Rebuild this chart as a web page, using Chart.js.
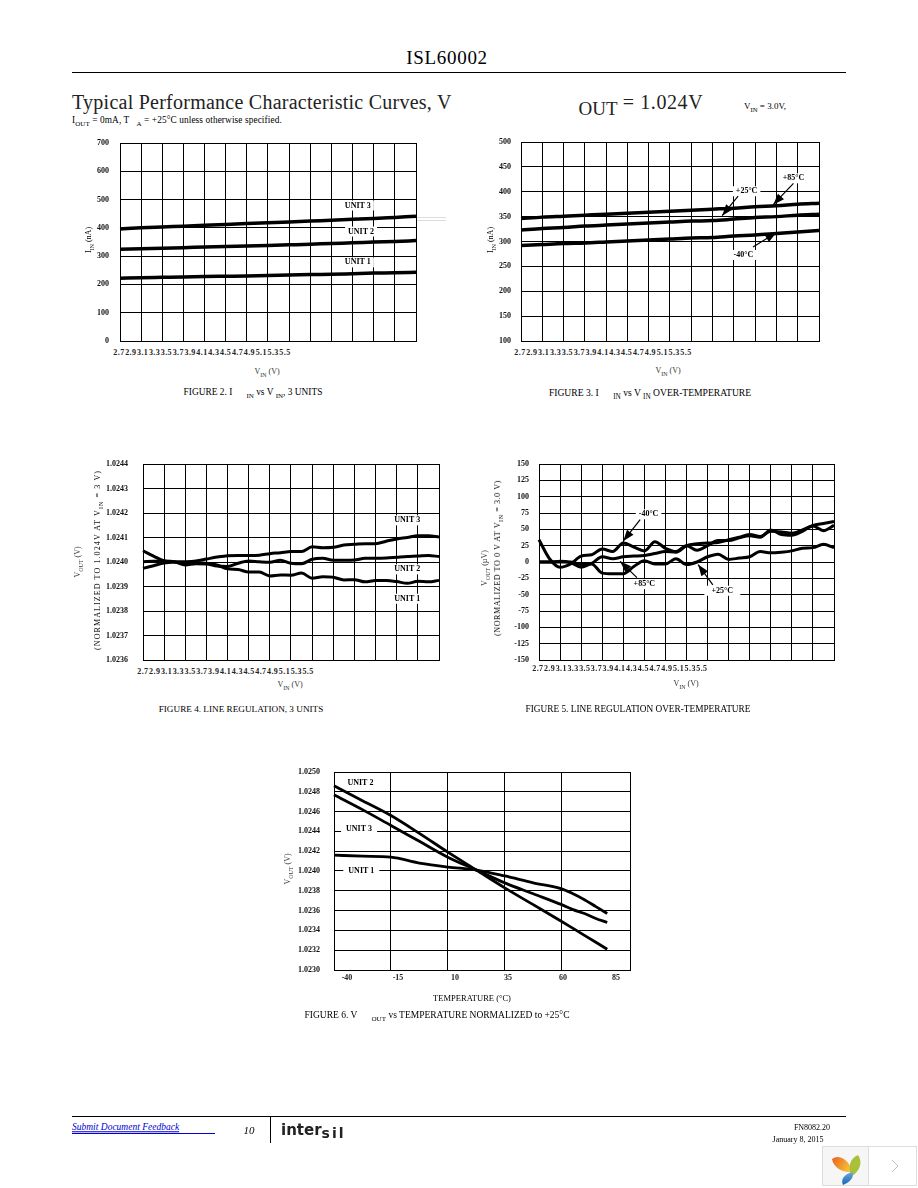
<!DOCTYPE html>
<html>
<head>
<meta charset="utf-8">
<title>ISL60002 typical performance curves</title>
<script src="https://cdn.jsdelivr.net/npm/chart.js@4/dist/chart.umd.min.js"></script>
<style>
    html, body { margin: 0; padding: 0; background: #fff; }
    #page { position: relative; width: 918px; height: 1188px; overflow: hidden; font-family: "Liberation Serif", serif; color: #000; }
    #page canvas { position: absolute; }
    .t { position: absolute; white-space: nowrap; line-height: 1; }
    .t sub { font-size: 75%; vertical-align: -3px; line-height: 0; }
    .rule { position: absolute; background: #000; }
    .vin-row { position: absolute; display: flex; font-size: 8px; font-weight: bold; line-height: 1; letter-spacing: 0.4px; color: #222; }
    .vin-row span { text-align: center; }
</style>
</head>
<body>
<div id="page"></div>
<script>
// VIN sweep shared by figures 2-5
const vinTicks = [2.7, 2.9, 3.1, 3.3, 3.5, 3.7, 3.9, 4.1, 4.3, 4.5, 4.7, 4.9, 5.1, 5.3, 5.5];
const vinFine = [2.7, 2.8, 2.9, 3.0, 3.1, 3.2, 3.3, 3.4, 3.5, 3.6, 3.7, 3.8, 3.9, 4.0, 4.1, 4.2, 4.3, 4.4, 4.5, 4.6, 4.7, 4.8, 4.9, 5.0, 5.1, 5.2, 5.3, 5.4, 5.5];

// Figure 2
const fig2Ticks = [0, 100, 200, 300, 400, 500, 600, 700];
const fig2Unit1 = [222, 224, 225, 226, 228, 229, 230, 232, 233, 235, 236, 238, 240, 241, 243];
const fig2Unit2 = [324, 326, 328, 330, 332, 334, 336, 338, 340, 342, 345, 347, 350, 352, 355];
const fig2Unit3 = [396, 400, 403, 406, 409, 412, 415, 418, 421, 424, 427, 430, 433, 437, 441];

// Figure 3
const fig3Ticks = [100, 150, 200, 250, 300, 350, 400, 450, 500];
const fig3Plus85 = [346, 349, 351, 353, 355, 357, 359, 361, 363, 365, 367, 370, 372, 375, 377];
const fig3Plus25 = [323, 326, 328, 331, 333, 335, 337, 339, 341, 342, 345, 348, 350, 353, 355];
const fig3Minus40 = [292, 294, 296, 297, 299, 301, 303, 305, 307, 308, 311, 313, 316, 319, 322];

// Figure 4
const fig4Ticks = [1.0236, 1.0237, 1.0238, 1.0239, 1.024, 1.0241, 1.0242, 1.0243, 1.0244];
const fig4Unit1 = [1.024046, 1.024024, 1.024004, 1.024, 1.023997, 1.023997, 1.023995, 1.023988, 1.023972, 1.023969, 1.023959, 1.023959, 1.023943, 1.023947, 1.023946, 1.023955, 1.023934, 1.02394, 1.023938, 1.023927, 1.023928, 1.023919, 1.023924, 1.023924, 1.02392, 1.023913, 1.023921, 1.023919, 1.023925];
const fig4Unit2 = [1.024001, 1.024003, 1.024004, 1.024001, 1.023988, 1.023993, 1.023992, 1.023984, 1.023982, 1.023995, 1.024004, 1.024001, 1.023999, 1.024007, 1.023995, 1.023993, 1.024011, 1.024015, 1.024007, 1.024007, 1.024008, 1.024015, 1.024015, 1.024016, 1.024019, 1.024022, 1.024024, 1.024027, 1.024022];
const fig4Unit3 = [1.023974, 1.023985, 1.023996, 1.024, 1.024001, 1.024004, 1.024012, 1.02402, 1.024026, 1.024027, 1.024027, 1.024028, 1.024034, 1.024038, 1.024043, 1.024043, 1.024062, 1.024058, 1.02406, 1.024069, 1.024072, 1.024075, 1.024075, 1.024085, 1.024094, 1.0241, 1.024107, 1.024107, 1.024102];

// Figure 5
const fig5Ticks = [-150, -125, -100, -75, -50, -25, 0, 25, 50, 75, 100, 125, 150];
const fig5Minus40 = [34, 5, -8, -3, 9, 11, 20, 16, 29, 23, 17, 31, 21, 16, 25, 18, 25, 33, 33, 37, 40, 38, 49, 42, 41, 47, 55, 48, 56];
const fig5Plus85 = [0, 0, 0, 0, -4, -2, 8, 5, 8, 9, 10, 13, 16, 15, 25, 28, 29, 30, 34, 38, 42, 39, 47, 46, 44, 49, 56, 59, 62];
const fig5Plus25 = [0, 0, 1, -1, -8, -3, -17, -18, -18, -7, 2, -3, -3, 5, -4, 0, 8, 12, 4, 6, 8, 16, 14, 15, 17, 21, 22, 27, 22];

// Figure 6
const tempGrid = [-40, -15, 10, 35, 60, 90];
const tempLabels = ["-40", "-15", "10", "35", "60", "85"];
const tempValues = [-40, -27.5, -15, -2.5, 10, 22.5, 35, 47.5, 60, 65, 70, 75, 80];
const fig6Ticks = [1.023, 1.0232, 1.0234, 1.0236, 1.0238, 1.024, 1.0242, 1.0244, 1.0246, 1.0248, 1.025];
const fig6Unit1 = [1.02416, 1.02415, 1.02414, 1.02408, 1.02404, 1.02401, 1.02395, 1.02388, 1.02382, 1.02377, 1.02371, 1.02364, 1.02357];
const fig6Unit2 = [1.02486, 1.02471, 1.02456, 1.02438, 1.02419, 1.02401, 1.02383, 1.02366, 1.02349, 1.02342, 1.02335, 1.02328, 1.02321];
const fig6Unit3 = [1.02477, 1.02462, 1.02446, 1.0243, 1.02414, 1.02401, 1.02388, 1.02377, 1.02366, 1.02361, 1.02357, 1.02352, 1.02348];

const page = document.getElementById("page");

// Absolutely placed text, x/y is the anchor point
function addText(html, x, y, opts = {}) {
    const el = document.createElement("div");
    el.className = "t";
    el.innerHTML = html;
    el.style.left = x + "px";
    el.style.top = y + "px";
    el.style.fontSize = (opts.size || 9) + "px";
    if (opts.bold) el.style.fontWeight = "bold";
    if (opts.italic) el.style.fontStyle = "italic";
    if (opts.color) el.style.color = opts.color;
    if (opts.spacing) el.style.letterSpacing = opts.spacing + "px";
    if (opts.family) el.style.fontFamily = opts.family;
    let transform = "translate(-50%, -50%)";
    if (opts.anchor === "left") transform = "translate(0, -50%)";
    if (opts.rotate) transform += " rotate(-90deg)";
    el.style.transform = transform;
    page.appendChild(el);
    return el;
}

function addRule(x, y, w, h, color) {
    const el = document.createElement("div");
    el.className = "rule";
    el.style.cssText = `left:${x}px;top:${y}px;width:${w}px;height:${h}px;` + (color ? `background:${color};` : "");
    page.appendChild(el);
}

// The VIN labels in the source sit squeezed together under the left half of the axis
function addVinRow(x, y, width) {
    const row = document.createElement("div");
    row.className = "vin-row";
    row.style.left = x + "px";
    row.style.top = y + "px";
    vinTicks.forEach(v => {
        const s = document.createElement("span");
        s.style.width = (width / vinTicks.length) + "px";
        s.textContent = v.toFixed(1);
        row.appendChild(s);
    });
    page.appendChild(row);
}

// Labels with a white patch and arrows, positioned through the chart's scales
const notesPlugin = {
    id: "notes",
    beforeDatasetsDraw(chart, args, opts) {
        const { ctx, scales } = chart;
        ctx.save();
        ctx.font = "bold 8px 'Liberation Serif'";
        ctx.textAlign = "center";
        ctx.textBaseline = "middle";
        (opts.labels || []).forEach(n => {
            const px = scales.x.getPixelForValue(n.x);
            const py = scales.y.getPixelForValue(n.y);
            const w = n.w || ctx.measureText(n.text).width + 6;
            ctx.fillStyle = "#fff";
            ctx.fillRect(px - w / 2, py - 5, w, 10);
            ctx.fillStyle = "#000";
            ctx.fillText(n.text, px, py);
        });
        ctx.restore();
    },
    afterDatasetsDraw(chart, args, opts) {
        const { ctx, scales } = chart;
        ctx.save();
        ctx.strokeStyle = "#000";
        ctx.fillStyle = "#000";
        ctx.lineWidth = 1.2;
        (opts.arrows || []).forEach(a => {
            const x0 = scales.x.getPixelForValue(a.from[0]);
            const y0 = scales.y.getPixelForValue(a.from[1]);
            const x1 = scales.x.getPixelForValue(a.to[0]);
            const y1 = scales.y.getPixelForValue(a.to[1]);
            const ang = Math.atan2(y1 - y0, x1 - x0);
            ctx.beginPath();
            ctx.moveTo(x0, y0);
            ctx.lineTo(x1, y1);
            ctx.stroke();
            ctx.beginPath();
            ctx.moveTo(x1, y1);
            ctx.lineTo(x1 - 12 * Math.cos(ang - 0.35), y1 - 12 * Math.sin(ang - 0.35));
            ctx.lineTo(x1 - 12 * Math.cos(ang + 0.35), y1 - 12 * Math.sin(ang + 0.35));
            ctx.closePath();
            ctx.fill();
        });
        ctx.restore();
    }
};
Chart.register(notesPlugin);

// Build one figure. box is the plot area in page pixels
function makeChart(cfg) {
    const marginLeft = 46, marginTop = 8, marginRight = 6, marginBottom = 6;
    const { box } = cfg;
    const canvas = document.createElement("canvas");
    canvas.width = box.right - box.left + marginLeft + marginRight;
    canvas.height = box.bottom - box.top + marginTop + marginBottom;
    canvas.style.left = (box.left - marginLeft) + "px";
    canvas.style.top = (box.top - marginTop) + "px";
    page.appendChild(canvas);

    const gridLine = { color: "#000", lineWidth: 1, drawTicks: false };
    // the tick labels must not push the plot area around
    const noPadding = scale => {
        scale.paddingTop = 0;
        scale.paddingBottom = 0;
        scale.paddingLeft = 0;
        scale.paddingRight = 0;
    };
    new Chart(canvas.getContext("2d"), {
        type: "line",
        data: {
            datasets: cfg.series.map(s => ({
                label: s.label,
                data: cfg.xValues.map((x, i) => ({ x, y: s.values[i] })),
                borderColor: "#000",
                borderWidth: cfg.lineWidth || 3,
                cubicInterpolationMode: "monotone",
                pointRadius: 0,
                clip: false
            }))
        },
        options: {
            responsive: false,
            animation: false,
            devicePixelRatio: 1,
            layout: { padding: { top: marginTop, right: marginRight } },
            plugins: {
                legend: { display: false },
                tooltip: { enabled: false },
                notes: { labels: cfg.labels || [], arrows: cfg.arrows || [] }
            },
            scales: {
                x: {
                    type: "linear",
                    min: cfg.xTicks[0],
                    max: cfg.xTicks[cfg.xTicks.length - 1],
                    grid: gridLine,
                    border: { color: "#000", width: 1 },
                    ticks: { display: false },
                    afterBuildTicks: scale => { scale.ticks = cfg.xTicks.map(value => ({ value })); },
                    afterFit: scale => { scale.height = marginBottom; noPadding(scale); }
                },
                y: {
                    type: "linear",
                    min: cfg.yTicks[0],
                    max: cfg.yTicks[cfg.yTicks.length - 1],
                    grid: gridLine,
                    border: { color: "#000", width: 1 },
                    ticks: {
                        autoSkip: false,
                        padding: cfg.tickPad,
                        color: "#111",
                        font: { family: "'Liberation Serif'", size: 8, weight: "bold" },
                        callback: value => value.toFixed(cfg.yDecimals || 0)
                    },
                    afterBuildTicks: scale => { scale.ticks = cfg.yTicks.map(value => ({ value })); },
                    afterFit: scale => { scale.width = marginLeft; noPadding(scale); }
                }
            }
        }
    });
}

// Page header
addText("ISL60002", 447, 57, { size: 19, spacing: 0.7 });
addRule(72, 72, 774, 1);
addText("Typical Performance Characteristic Curves, V", 72, 102, { size: 20, anchor: "left", spacing: 0.25, color: "#222" });
addText("OUT", 598, 108, { size: 19, color: "#222" });
addText("= 1.024V", 663, 102, { size: 20, spacing: 0.6, color: "#222" });
addText("V<sub>IN</sub> = 3.0V,", 765, 106, { size: 9 });
addText("I<sub>OUT</sub> = 0mA, T &nbsp;&nbsp;<sub>A</sub> = +25°C unless otherwise specified.", 72, 121, { size: 9.3, anchor: "left", spacing: 0.1 });

// FIGURE 2
makeChart({
    box: { left: 120, right: 416, top: 143, bottom: 341 },
    xValues: vinTicks, xTicks: vinTicks, yTicks: fig2Ticks, tickPad: 11, lineWidth: 3.5,
    series: [
        { label: "UNIT 1", values: fig2Unit1 },
        { label: "UNIT 2", values: fig2Unit2 },
        { label: "UNIT 3", values: fig2Unit3 }
    ],
    labels: [
        { text: "UNIT 3", x: 4.95, y: 479 },
        { text: "UNIT 2", x: 4.98, y: 387, w: 32 },
        { text: "UNIT 1", x: 4.95, y: 278 }
    ]
});
addVinRow(113, 349, 178);
addText("V<sub>IN</sub> (V)", 267, 372, { size: 8, color: "#333" });
addText("I<sub>IN</sub> (nA)", 89, 240, { size: 8, rotate: true });
addText("FIGURE 2. I &nbsp;&nbsp;&nbsp;&nbsp;&nbsp;<sub>IN</sub> vs V <sub>IN</sub>, 3 UNITS", 253, 393, { size: 9.4 });
// faint scan residue right of figure 2
addRule(417, 217, 29, 1, "#ddd");
addRule(417, 220, 29, 1, "#ddd");

// FIGURE 3
makeChart({
    box: { left: 521, right: 819, top: 142, bottom: 341 },
    xValues: vinTicks, xTicks: vinTicks, yTicks: fig3Ticks, tickPad: 10, lineWidth: 3.5,
    series: [
        { label: "+85°C", values: fig3Plus85 },
        { label: "+25°C", values: fig3Plus25 },
        { label: "-40°C", values: fig3Minus40 }
    ],
    labels: [
        { text: "+85°C", x: 5.26, y: 427 },
        { text: "+25°C", x: 4.82, y: 401 },
        { text: "-40°C", x: 4.79, y: 273 }
    ],
    arrows: [
        { from: [5.26, 417], to: [5.07, 374] },
        { from: [4.74, 391], to: [4.59, 352] },
        { from: [4.88, 289], to: [5.10, 318] }
    ]
});
addVinRow(514, 349, 178);
addText("V<sub>IN</sub> (V)", 668, 371, { size: 8, color: "#333" });
addText("I<sub>IN</sub> (nA)", 491, 240, { size: 8, rotate: true });
addText("FIGURE 3. I &nbsp;&nbsp;&nbsp;&nbsp;&nbsp;<sub>IN</sub> vs V <sub>IN</sub> OVER-TEMPERATURE", 650, 393, { size: 9.6 });

// FIGURE 4
makeChart({
    box: { left: 143, right: 439, top: 464, bottom: 660 },
    xValues: vinFine, xTicks: vinTicks, yTicks: fig4Ticks, yDecimals: 4, tickPad: 15,
    series: [
        { label: "UNIT 1", values: fig4Unit1 },
        { label: "UNIT 2", values: fig4Unit2 },
        { label: "UNIT 3", values: fig4Unit3 }
    ],
    labels: [
        { text: "UNIT 3", x: 5.2, y: 1.02417 },
        { text: "UNIT 2", x: 5.2, y: 1.02397, w: 34 },
        { text: "UNIT 1", x: 5.2, y: 1.02385, w: 34 }
    ]
});
addVinRow(137, 668, 177);
addText("V<sub>IN</sub> (V)", 290, 685, { size: 8, color: "#333" });
addText("V<sub>OUT</sub> (V)", 78, 562, { size: 8, rotate: true, color: "#333" });
addText("(NORMALIZED TO 1.024V AT V<sub>IN</sub> = 3 V)", 98, 560, { size: 8, rotate: true, spacing: 1.1 });
addText("FIGURE 4. LINE REGULATION, 3 UNITS", 241, 710, { size: 9.2 });

// FIGURE 5
makeChart({
    box: { left: 539, right: 834, top: 464, bottom: 660 },
    xValues: vinFine, xTicks: vinTicks, yTicks: fig5Ticks, tickPad: 10,
    series: [
        { label: "-40°C", values: fig5Minus40 },
        { label: "+85°C", values: fig5Plus85 },
        { label: "+25°C", values: fig5Plus25 }
    ],
    labels: [
        { text: "-40°C", x: 3.74, y: 73 },
        { text: "+85°C", x: 3.70, y: -34 },
        { text: "+25°C", x: 4.44, y: -44, w: 36 }
    ],
    arrows: [
        { from: [3.66, 65], to: [3.50, 32] },
        { from: [3.63, -24], to: [3.47, 1] },
        { from: [4.35, -35], to: [4.21, -4] }
    ]
});
addVinRow(532, 665, 176);
addText("V<sub>IN</sub> (V)", 686, 684, { size: 8, color: "#333" });
addText("V<sub>OUT</sub> (µV)", 485, 568, { size: 8, rotate: true, color: "#333" });
addText("(NORMALIZED TO 0 V AT V<sub>IN</sub> = 3.0 V)", 498, 558, { size: 8, rotate: true, spacing: 0.6 });
addText("FIGURE 5. LINE REGULATION OVER-TEMPERATURE", 638, 710, { size: 9.3 });

// FIGURE 6
makeChart({
    box: { left: 334, right: 630, top: 772, bottom: 970 },
    xValues: tempValues, xTicks: tempGrid, yTicks: fig6Ticks, yDecimals: 4, tickPad: 14, lineWidth: 2.8,
    series: [
        { label: "UNIT 1", values: fig6Unit1 },
        { label: "UNIT 2", values: fig6Unit2 },
        { label: "UNIT 3", values: fig6Unit3 }
    ],
    labels: [
        { text: "UNIT 2", x: -28.4, y: 1.02489 },
        { text: "UNIT 3", x: -29, y: 1.02442, w: 36 },
        { text: "UNIT 1", x: -28, y: 1.024, w: 36 }
    ]
});
[347, 398, 455, 508, 563, 616].forEach((x, i) => addText(tempLabels[i], x, 978, { size: 8, bold: true, color: "#222" }));
addText("TEMPERATURE (°C)", 472, 998, { size: 8.5 });
addText("V<sub>OUT</sub> (V)", 288, 869, { size: 8, rotate: true, color: "#333" });
addText("FIGURE 6. V &nbsp;&nbsp;&nbsp;&nbsp;&nbsp;<sub>OUT</sub> vs TEMPERATURE NORMALIZED to +25°C", 437, 1016, { size: 9.5 });

// Page footer
addRule(72, 1116, 774, 1);
addRule(270, 1116, 1, 27);
addRule(72, 1133, 143, 1, "#0000d0");
addText("Submit Document Feedback", 72, 1128, { size: 9.5, italic: true, anchor: "left", color: "#0000d0" }).style.textDecoration = "underline";
addText("10", 249, 1130, { size: 11, italic: true });
addText("inter<span style='position:relative;top:3px;font-size:14px;letter-spacing:2px'>sil</span>", 281, 1130, { size: 15, bold: true, anchor: "left", family: "'DejaVu Sans'", color: "#222" });
addText("FN8082.20", 812, 1128, { size: 8 });
addText("January 8, 2015", 798, 1140, { size: 8 });

// Viewer widget in the bottom corner
const widget = document.createElement("div");
widget.style.cssText = "position:absolute;left:822px;top:1146px;width:95px;height:40px;";
widget.innerHTML = `<svg width="95" height="40" xmlns="http://www.w3.org/2000/svg">
    <defs>
        <linearGradient id="leafA" x1="0" y1="0" x2="1" y2="0.4"><stop offset="0" stop-color="#e8601c"/><stop offset="1" stop-color="#f7c23a"/></linearGradient>
        <linearGradient id="leafB" x1="0" y1="0" x2="0" y2="1"><stop offset="0" stop-color="#6fa8dc"/><stop offset="1" stop-color="#1566b8"/></linearGradient>
    </defs>
    <rect x="0.5" y="0.5" width="94" height="39" fill="#fff" stroke="#ddd"/>
    <rect x="1" y="1" width="45" height="38" fill="#f6f6f6"/>
    <line x1="46.5" y1="0.5" x2="46.5" y2="39.5" stroke="#ddd"/>
    <path d="M10 13 C16 8 26 12 31 26 C22 27 12 23 10 13Z" fill="url(#leafA)"/>
    <path d="M36 9 C41 16 38 25 30 30 C25 22 28 12 36 9Z" fill="#a9c13a"/>
    <path d="M30 26 C33 31 28 36 21 39 C18 33 23 28 30 26Z" fill="url(#leafB)"/>
    <path d="M70 14 L76 20 L70 26" fill="none" stroke="#c4c4c4" stroke-width="1"/>
</svg>`;
page.appendChild(widget);
</script>
</body>
</html>
